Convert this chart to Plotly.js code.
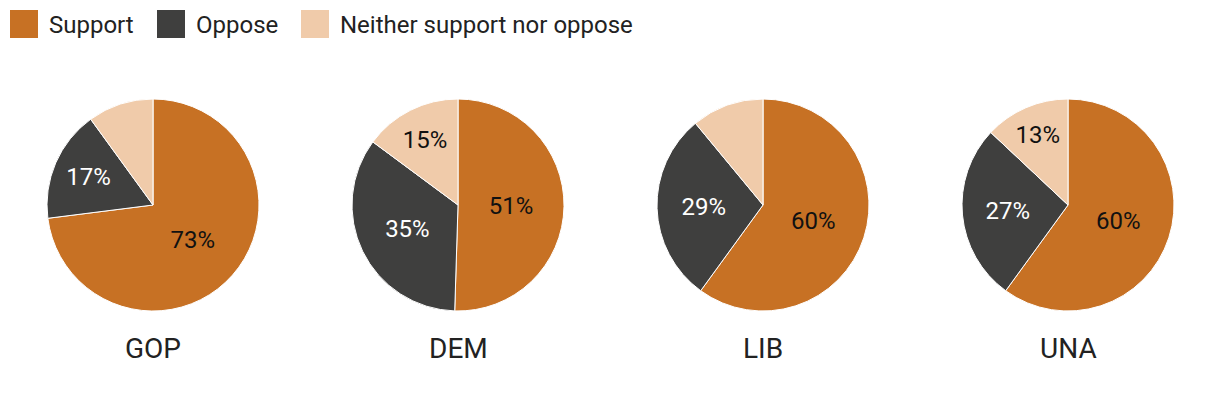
<!DOCTYPE html>
<html>
<head>
<meta charset="utf-8">
<script src="https://cdn.plot.ly/plotly-3.0.1.min.js"></script>
<style>
  html, body { margin: 0; padding: 0; background: #ffffff; }
  #chart { width: 1220px; height: 394px; }
</style>
</head>
<body>
<div id="chart"></div>
<script>
// ---- data ----
const groups = ["GOP", "DEM", "LIB", "UNA"];
const categories = ["Support", "Oppose", "Neither support nor oppose"];
const supportValues = [73, 51, 60, 60];
const opposeValues = [17, 35, 29, 27];
const neitherValues = [10, 15, 11, 13];
// which slices show a label (small slices are left unlabelled)
const showLabel = [
  [true, true, false],
  [true, true, true],
  [true, true, false],
  [true, true, true]
];

// ---- style ----
const colors = ["#C77124", "#3F3F3E", "#F0CBAA"];
const textColors = ["#111111", "#ffffff", "#111111"];
const W = 1220, H = 394;
const centersX = [153, 458, 763, 1068];
const centerY = 205;
const R = 106;

const traces = groups.map((g, i) => {
  const vals = [supportValues[i], opposeValues[i], neitherValues[i]];
  return {
    type: "pie",
    labels: categories,
    values: vals,
    sort: false,
    direction: "clockwise",
    rotation: 0,
    marker: { colors: colors, line: { color: "#ffffff", width: 1 } },
    texttemplate: showLabel[i].map(s => s ? "%{value}%" : ""),
    textposition: "inside",
    insidetextorientation: "horizontal",
    insidetextfont: { family: "Roboto, sans-serif", size: 24, color: textColors },
    hoverinfo: "label+value",
    showlegend: false,
    domain: {
      x: [(centersX[i] - R) / W, (centersX[i] + R) / W],
      y: [(H - centerY - R) / H, (H - centerY + R) / H]
    }
  };
});

// custom legend (large square keys)
const legendX = [10, 157, 301];
const shapes = categories.map((c, k) => ({
  type: "rect", xref: "paper", yref: "paper",
  x0: legendX[k] / W, x1: (legendX[k] + 28) / W,
  y0: (H - 38) / H, y1: (H - 10) / H,
  fillcolor: colors[k], line: { width: 0 }
}));
const annotations = categories.map((c, k) => ({
  text: c, xref: "paper", yref: "paper",
  x: (legendX[k] + 37) / W, y: (H - 25) / H,
  xanchor: "left", yanchor: "middle", showarrow: false,
  font: { family: "Roboto, sans-serif", size: 24, color: "#222222" }
})).concat(groups.map((g, i) => ({
  text: g, xref: "paper", yref: "paper",
  x: centersX[i] / W, y: (H - 348) / H,
  xanchor: "center", yanchor: "middle", showarrow: false,
  font: { family: "Roboto, sans-serif", size: 28, color: "#222222" }
})));

const layout = {
  width: W, height: H,
  margin: { l: 0, r: 0, t: 0, b: 0 },
  paper_bgcolor: "#ffffff",
  plot_bgcolor: "#ffffff",
  showlegend: false,
  shapes: shapes,
  annotations: annotations,
  font: { family: "Roboto, sans-serif" }
};

Plotly.newPlot("chart", traces, layout, { displayModeBar: false, staticPlot: true });
</script>
</body>
</html>
